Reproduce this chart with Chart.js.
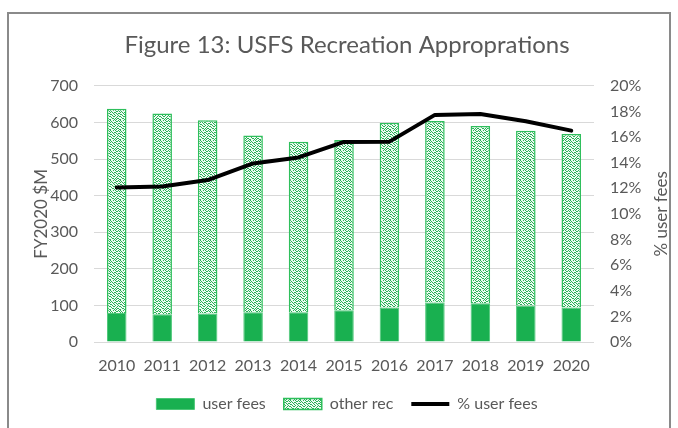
<!DOCTYPE html>
<html>
<head>
<meta charset="utf-8">
<script src="https://cdn.jsdelivr.net/npm/chart.js@4"></script>
<style>
  html, body { margin: 0; padding: 0; background: #fff; }
  #frame { position: absolute; left: 7px; top: 12px; width: 664px; height: 430px; border: 2px solid #8a8a8a; box-sizing: border-box; }
  #wrap { position: absolute; left: 0; top: 0; width: 678px; height: 428px; }
</style>
</head>
<body>
<div id="frame"></div>
<div id="wrap"><canvas id="chart" width="678" height="428"></canvas></div>
<script>
// values
const years = ['2010', '2011', '2012', '2013', '2014', '2015', '2016', '2017', '2018', '2019', '2020'];
const userFees = [79, 76, 78, 81, 81, 87, 94, 108, 106, 100, 94];
const otherRec = [558, 548, 528, 483, 466, 465, 505, 496, 484, 477, 474];
const pctUserFees = [12.06, 12.14, 12.64, 13.94, 14.41, 15.62, 15.64, 17.73, 17.8, 17.23, 16.5];

const green = '#19b050';
const textGrey = '#595959';
const font = 'Lato, "Open Sans", sans-serif';

// speckled fill like the excel "dotted" pattern
function makePattern() {
    const c = document.createElement('canvas');
    c.width = 10; c.height = 10;
    const p = c.getContext('2d');
    p.fillStyle = '#f2faf4';
    p.fillRect(0, 0, 10, 10);
    const rows = [
        '1001010010',
        '0100001101',
        '1010110000',
        '0001001011',
        '1100100100',
        '0010010010',
        '1001100101',
        '0100001000',
        '0011010110',
        '1000101001'
    ];
    p.fillStyle = '#28b257';
    rows.forEach((r, y) => {
        for (let x = 0; x < 10; x++) if (r[x] === '1') p.fillRect(x, y, 1, 1);
    });
    return document.getElementById('chart').getContext('2d').createPattern(c, 'repeat');
}
const speckle = makePattern();

// right axis title reads bottom-to-top like the left one
const rightTitle = {
    id: 'rightTitle',
    afterDraw(chart) {
        const ctx = chart.ctx;
        const area = chart.chartArea;
        ctx.save();
        ctx.translate(662, (area.top + area.bottom) / 2);
        ctx.rotate(-Math.PI / 2);
        ctx.fillStyle = textGrey;
        ctx.font = '17px ' + font;
        ctx.textAlign = 'center';
        ctx.textBaseline = 'middle';
        ctx.fillText('% user fees', 0, 0);
        ctx.restore();
    }
};

new Chart(document.getElementById('chart'), {
    type: 'bar',
    data: {
        labels: years,
        datasets: [{
            label: 'user fees',
            data: userFees,
            backgroundColor: green,
            borderColor: '#4cc777',
            borderWidth: 1,
            barPercentage: 0.43,
            categoryPercentage: 1,
            order: 1,
            yAxisID: 'y'
        }, {
            label: 'other rec',
            data: otherRec,
            backgroundColor: speckle,
            borderColor: '#2fbf5c',
            borderWidth: 1.5,
            barPercentage: 0.43,
            categoryPercentage: 1,
            order: 1,
            yAxisID: 'y'
        }, {
            type: 'line',
            label: '% user fees',
            data: pctUserFees,
            borderColor: '#000',
            backgroundColor: '#000',
            borderWidth: 4,
            pointRadius: 0,
            tension: 0,
            borderJoinStyle: 'round',
            borderCapStyle: 'round',
            order: 0,
            yAxisID: 'y1'
        }]
    },
    plugins: [rightTitle],
    options: {
        responsive: false,
        animation: false,
        layout: { padding: { left: 16, right: 0, top: 0, bottom: 6 } },
        plugins: {
            title: {
                display: true,
                text: 'Figure 13: USFS Recreation Approprations',
                color: textGrey,
                font: { family: font, size: 24, weight: 'normal' },
                padding: { top: 31, bottom: 26 }
            },
            legend: {
                position: 'bottom',
                labels: {
                    color: textGrey,
                    font: { family: font, size: 16 },
                    usePointStyle: true,
                    pointStyleWidth: 38,
                    boxHeight: 11,
                    padding: 18,
                    sort: (a, b) => a.datasetIndex - b.datasetIndex,
                    generateLabels: function(chart) {
                        const items = Chart.defaults.plugins.legend.labels.generateLabels(chart);
                        items.forEach(it => {
                            it.pointStyle = it.datasetIndex === 2 ? 'line' : 'rect';
                        });
                        return items;
                    }
                }
            },
            tooltip: { enabled: false }
        },
        scales: {
            x: {
                stacked: true,
                grid: { display: false },
                border: { display: false },
                ticks: { color: textGrey, font: { family: font, size: 16 }, padding: 6 },
                afterFit: s => { s.height = 36; }
            },
            y: {
                stacked: true,
                position: 'left',
                min: 0,
                max: 700,
                ticks: { stepSize: 100, color: textGrey, font: { family: font, size: 16 }, padding: 16 },
                grid: { color: '#d9d9d9', drawTicks: false },
                border: { display: false },
                title: {
                    display: true,
                    text: 'FY2020 $M',
                    color: textGrey,
                    font: { family: font, size: 17 },
                    padding: { top: 15, bottom: 0 }
                },
                afterFit: s => { s.width = 78; }
            },
            y1: {
                position: 'right',
                min: 0,
                max: 20,
                ticks: { stepSize: 2, color: textGrey, font: { family: font, size: 16 }, padding: 16, callback: v => v + '%' },
                grid: { display: false, drawTicks: false },
                border: { display: false },
                afterFit: s => { s.width = 84; }
            }
        }
    }
});
</script>
</body>
</html>
